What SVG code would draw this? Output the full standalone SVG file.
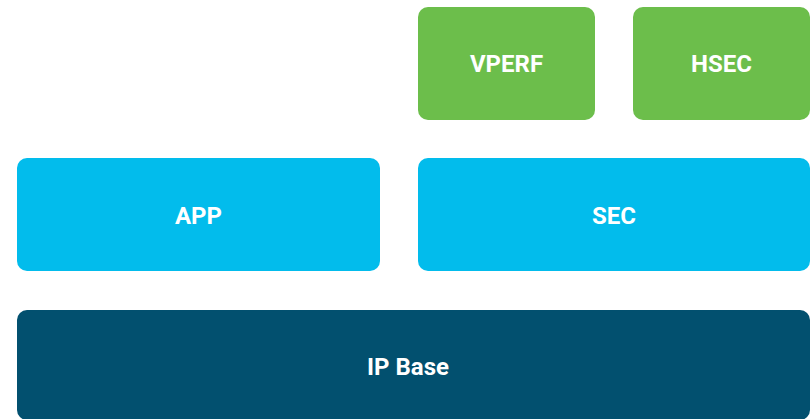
<svg xmlns="http://www.w3.org/2000/svg" width="812" height="419" viewBox="0 0 812 419">
<style>
.box{stroke:none}
.g{fill:#6CBE4B}
.b{fill:#02BCEC}
.d{fill:#02506F}
.t{font-family:Roboto,"Liberation Sans",sans-serif;font-weight:bold;font-size:24px;fill:#ffffff;text-anchor:middle}
</style>
<rect width="812" height="419" fill="#ffffff"/>
<g id="vperf"><rect class="box g" x="418" y="7" width="177" height="113" rx="10"/><text class="t" x="506.5" y="72">VPERF</text></g>
<g id="hsec"><rect class="box g" x="633" y="7" width="177" height="113" rx="10"/><text class="t" x="721.5" y="72">HSEC</text></g>
<g id="app"><rect class="box b" x="17" y="158" width="363" height="113" rx="10"/><text class="t" x="198.5" y="224">APP</text></g>
<g id="sec"><rect class="box b" x="418" y="158" width="392" height="113" rx="10"/><text class="t" x="614" y="224">SEC</text></g>
<g id="ipbase"><rect class="box d" x="17" y="310" width="793" height="110" rx="10"/><text class="t" x="408" y="375">IP Base</text></g>
<g id="connectors"/>
</svg>
